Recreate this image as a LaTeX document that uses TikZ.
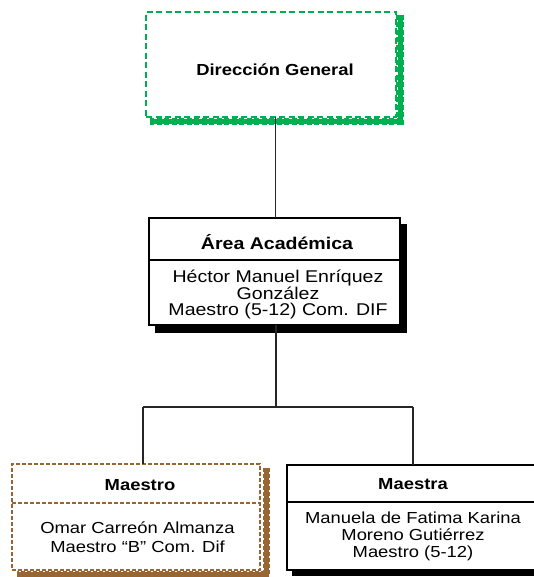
\documentclass[tikz,border=0pt]{standalone}
\usepackage{fontspec}
\setmainfont{Liberation Sans}[FakeStretch=1.15]
\definecolor{dirgreen}{RGB}{0,176,80}
\definecolor{maebrown}{RGB}{153,102,51}
\begin{document}
\begin{tikzpicture}[x=1pt,y=-1pt,
  every node/.style={inner sep=0pt, outer sep=0pt},
  boxline/.style={line width=1.4pt, draw=black, fill=white},
  greenframe/.style={line width=1.3pt, draw=dirgreen, dash pattern=on 6pt off 3.5pt, fill=white},
  brownframe/.style={line width=1.2pt, draw=maebrown, dash pattern=on 4pt off 2pt, fill=white},
  conn/.style={line width=1.2pt, draw=black!85},
  ttl/.style={anchor=base, font=\fontsize{16}{17}\selectfont\bfseries},
  txt/.style={anchor=base, font=\fontsize{16}{17}\selectfont},
  bigttl/.style={anchor=base, font=\fontsize{17}{18}\selectfont\bfseries},
  bigtxt/.style={anchor=base, font=\fontsize{17}{18}\selectfont},
]
\useasboundingbox (0,0) rectangle (534,577);
\clip (0,0) rectangle (534,577);

% ---------- Dirección General ----------
\draw[dirgreen, line width=5pt] (400,15) -- (400,121.5) -- (150,121.5);
\draw[dirgreen, line width=7.5pt, dash pattern=on 5pt off 2.5pt] (400,15) -- (400,121.5) -- (150,121.5);
\node[greenframe, minimum width=250pt, minimum height=105pt] (dg) at (271,64.5) {};
\node[ttl] (dgt) at (275,76) {Dirección General};

% ---------- Área Académica ----------
\fill[black] (155,224) rectangle (407,333);
\node[boxline, minimum width=251pt, minimum height=107pt] (area) at (274.5,271.5) {};
\draw[line width=1.4pt] (area.west |- 0,260) -- (area.east |- 0,260);
\node[bigttl] (areat) at (277,249) {Área Académica};
\node[bigtxt] (area1) at (278,282) {Héctor Manuel Enríquez};
\node[bigtxt] (area2) at (278,299) {González};
\node[bigtxt] (area3) at (278,315.5) {Maestro (5-12) Com. DIF};

% ---------- Maestro ----------
\draw[maebrown, line width=5pt] (266.5,468) -- (266.5,574.5) -- (17,574.5);
\draw[maebrown, line width=7pt, dash pattern=on 4pt off 2pt] (266.5,468) -- (266.5,574.5) -- (17,574.5);
\node[brownframe, minimum width=248pt, minimum height=106pt] (m1) at (136,517) {};
\draw[brownframe] (m1.west |- 0,503) -- (m1.east |- 0,503);
\node[ttl] (m1t) at (140,490) {Maestro};
\node[txt] (m1a) at (137.5,533) {Omar Carreón Almanza};
\node[txt] (m1b) at (137.5,552) {Maestro “B” Com. Dif};

% ---------- Maestra ----------
\fill[black] (292,470) rectangle (545,576);
\node[boxline, minimum width=252pt, minimum height=105pt] (m2) at (413,517.5) {};
\draw[line width=1.4pt] (m2.west |- 0,502) -- (m2.east |- 0,502);
\node[ttl] (m2t) at (413,489) {Maestra};
\node[txt] (m2a) at (413,523) {Manuela de Fatima Karina};
\node[txt] (m2b) at (413,540) {Moreno Gutiérrez};
\node[txt] (m2c) at (413,557.5) {Maestro (5-12)};

% ---------- connectors ----------
\coordinate (j)  at (276,407);
\coordinate (jl) at (143,407);
\coordinate (jr) at (413,407);
\draw[conn] (dg.south -| 275.5,0) -- (area.north -| 275.5,0);
\draw[conn] (area.south -| j) -- (j);
\draw[conn] (jl) -- (jr);
\draw[conn] (jl) -- (jl |- m1.north);
\draw[conn] (jr) -- (jr |- m2.north);
\end{tikzpicture}
\end{document}
